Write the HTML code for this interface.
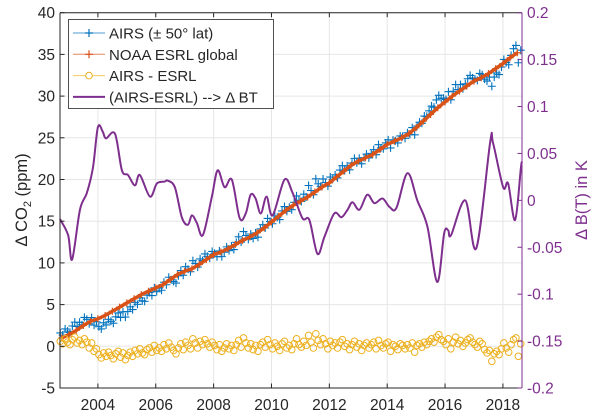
<!DOCTYPE html>
<html><head><meta charset="utf-8">
<style>
html,body{margin:0;padding:0;background:#fff;}
svg{display:block;font-family:"Liberation Sans",Arial,sans-serif;}
</style></head>
<body>
<svg id="chart" width="600" height="417" viewBox="0 0 600 417">
  <g id="grid"></g>
  <g id="series"></g>
  <g id="axes"></g>
  <text transform="translate(27,200) rotate(-90)" text-anchor="middle" font-size="16.5" fill="#262626">Δ CO<tspan font-size="11" dy="4">2</tspan><tspan dy="-4"> (ppm)</tspan></text>
  <text transform="translate(587,200) rotate(-90)" text-anchor="middle" font-size="16.5" fill="#7E2F8E">Δ B(T) in K</text>
  <g id="legend">
    <rect x="68.5" y="19.5" width="205" height="89" fill="#fff" stroke="#262626" stroke-width="0.8"/>
  </g>
</svg>
<script>
const esrlStart = 2002.75;
const esrlValues = [1.0,1.4,1.9,2.5,3.0,
3.3,3.7,4.2,4.7, 5.2,5.7,6.2,6.6, 7.0,7.4,8.0,8.6, 9.0,9.3,9.8,10.4,
11.0,11.3,11.7,12.2, 12.7,13.1,13.6,14.2, 14.9,15.6,16.3,16.9, 17.4,17.9,18.5,19.1,
19.6,20.3,21.0,21.7, 22.2,22.6,23.0,23.6, 24.2,24.6,25.0,25.5, 26.2,27.0,27.8,28.6,
29.3,30.0,30.6,31.2, 31.8,32.2,32.7,33.3, 33.9,34.6,35.2];
const residStart = 2002.7;
const residValues = [0.6,0.3,0.9,0.5,0.2,0.8,1.1,0.4,0.7,0.2,0.9,0.5,
-0.2,0.4,-0.6,-0.3,-1.0,-1.4,-0.8,-1.2,-0.7,-1.1,-1.5,-0.9,
-0.6,-1.3,-0.8,-1.6,-1.1,-0.7,-1.2,-0.5,-0.9,-0.3,-0.8,-1.0,
-0.4,-0.2,-0.7,0.1,-0.5,-0.2,-0.6,0.2,-0.3,0.4,-0.1,-0.5,
-0.9,-0.2,0.3,-0.4,0.5,0.1,-0.3,0.9,0.4,-0.2,0.6,0.2,
0.8,0.3,-0.1,0.5,0.1,-0.4,0.2,-0.6,-0.2,0.3,-0.3,0.1,
-0.5,0.2,0.7,-0.1,1.0,0.4,-0.2,0.3,-0.4,0.1,-0.6,0.2,
0.5,-0.1,0.8,0.2,-0.3,0.4,0.0,-0.5,0.3,0.6,-0.2,0.1,
-0.4,0.3,0.9,0.2,-0.1,0.6,0.1,1.3,0.5,-0.2,1.5,0.7,
0.2,0.9,0.3,-0.3,0.6,0.1,0.4,-0.2,0.5,0.8,0.0,0.3,
-0.4,0.2,0.6,-0.1,0.3,-0.5,0.1,0.4,-0.2,0.2,0.5,-0.3,
0.7,0.1,-0.2,0.3,0.5,-0.6,0.2,0.0,-0.4,0.3,0.1,-0.3,
0.2,-0.2,0.4,-0.7,0.1,0.3,-0.1,0.5,0.2,0.6,0.9,0.5,
1.1,1.4,0.8,0.6,0.2,0.9,-0.3,0.5,1.1,0.3,0.7,0.0,
0.4,0.8,1.0,0.5,0.2,-0.1,0.6,0.3,-0.4,-0.8,-0.5,-1.8,
-0.9,-0.6,-1.0,-0.3,0.4,-0.2,-0.7,0.2,0.8,1.0,-1.2,0.3];
const btYears = [2002.69,2002.97,2003.11,2003.38,2003.62,2003.83,2004.0,2004.17,2004.28,2004.59,2004.83,2005.04,2005.28,2005.45,2005.80,2006.04,2006.31,2006.41,2006.66,2006.90,2007.11,2007.25,2007.42,2007.63,2007.94,2008.14,2008.38,2008.63,2008.90,2009.11,2009.28,2009.45,2009.63,2009.83,2010.04,2010.45,2010.73,2011.07,2011.31,2011.59,2011.83,2012.17,2012.42,2012.63,2012.80,2013.04,2013.31,2013.56,2013.84,2014.08,2014.32,2014.70,2015.04,2015.39,2015.73,2015.97,2016.11,2016.21,2016.70,2017.08,2017.56,2017.66,2018.01,2018.18,2018.42,2018.62,2018.66];
const btValues = [-0.020,-0.037,-0.063,-0.010,0.008,0.035,0.078,0.073,0.066,0.071,0.032,0.027,0.016,0.027,0.004,0.018,0.020,0.021,0.014,-0.018,-0.026,-0.016,-0.024,-0.037,0.004,0.032,0.014,0.022,-0.019,-0.014,0.006,0.002,-0.014,0.004,-0.016,0.022,0.008,-0.019,-0.021,-0.057,-0.039,-0.014,-0.018,-0.010,-0.002,-0.010,0.006,-0.003,0.002,-0.007,-0.008,0.029,0.000,-0.028,-0.087,-0.035,-0.032,-0.037,0.000,-0.051,0.062,0.061,0.014,0.018,-0.021,0.034,0.041];
const yTicks = [-5,0,5,10,15,20,25,30,35,40];
const y2Ticks = [-0.2,-0.15,-0.1,-0.05,0,0.05,0.1,0.15,0.2];
const y2TickLabels = ["-0.2","-0.15","-0.1","-0.05","0","0.05","0.1","0.15","0.2"];
const xTicks = [2004,2006,2008,2010,2012,2014,2016,2018];

const L=60, R=522, T=12.7, B=388;
const X0=2002.69, X1=2018.66;
const sx = v => L + (v-X0)/(X1-X0)*(R-L);
const sy = v => B - (v+5)/45*(B-T);
const sy2 = v => B - (v+0.2)/0.4*(B-T);
const NS='http://www.w3.org/2000/svg';
function mk(tag, attrs, parent){const e=document.createElementNS(NS,tag);for(const k in attrs)e.setAttribute(k,attrs[k]);parent.appendChild(e);return e;}
const grid=document.getElementById('grid'), series=document.getElementById('series'), axes=document.getElementById('axes'), legend=document.getElementById('legend');

yTicks.forEach(t=>{const l=mk('line',{x1:L,x2:R,y1:sy(t),y2:sy(t),stroke:'#e6e6e6','stroke-width':1},grid);

});
xTicks.forEach(t=>{const l=mk('line',{x1:sx(t),x2:sx(t),y1:T,y2:B,stroke:'#e6e6e6','stroke-width':1},grid);

});

function esrlAt(t){let i=(t-esrlStart)/0.25;if(i<=0)return esrlValues[0];if(i>=esrlValues.length-1)return esrlValues[esrlValues.length-1];const a=Math.floor(i),f=i-a;return esrlValues[a]*(1-f)+esrlValues[a+1]*f;}

const gA=mk('g',{stroke:'#0072BD','stroke-width':1.1},series);


residValues.forEach((r,i)=>{const t=residStart+i/12;const x=sx(t),y=sy(esrlAt(t)+r);
const p=mk('path',{d:`M${x-4},${y}H${x+4}M${x},${y-4}V${y+4}`},gA);

});

const gE=mk('g',{},series);


const ePts=esrlValues.map((v,i)=>`${sx(esrlStart+i*0.25)},${sy(v)}`).join(' ');
const eLine=mk('polyline',{points:ePts,fill:'none',stroke:'#D95319','stroke-width':3.5,'stroke-linejoin':'round'},gE);


esrlValues.forEach((v,i)=>{const x=sx(esrlStart+i*0.25),y=sy(v);
const p=mk('path',{d:`M${x-3.5},${y}H${x+3.5}M${x},${y-3.5}V${y+3.5}`,stroke:'#D95319','stroke-width':1.2},gE);

});

const gR=mk('g',{fill:'none',stroke:'#EDB120','stroke-width':1},series);


residValues.forEach((r,i)=>{const c=mk('circle',{cx:sx(residStart+i/12),cy:sy(r),r:3.3},gR);

});

// smooth purple line (Catmull-Rom)
const bp=btValues.map((v,i)=>[sx(btYears[i]),sy2(v)]);
let d=`M${bp[0][0]},${bp[0][1]}`;
for(let i=0;i<bp.length-1;i++){const p0=bp[Math.max(0,i-1)],p1=bp[i],p2=bp[i+1],p3=bp[Math.min(bp.length-1,i+2)];
const c1=[p1[0]+(p2[0]-p0[0])/6,p1[1]+(p2[1]-p0[1])/6],c2=[p2[0]-(p3[0]-p1[0])/6,p2[1]-(p3[1]-p1[1])/6];
d+=`C${c1[0]},${c1[1]} ${c2[0]},${c2[1]} ${p2[0]},${p2[1]}`;}
const bLine=mk('path',{d:d,fill:'none',stroke:'#7E2F8E','stroke-width':2,'stroke-linejoin':'round'},series);



const ax=mk('path',{d:`M${L},${T}V${B}H${R}M${L},${T}H${R}`,fill:'none',stroke:'#262626','stroke-width':1},axes);


const ax2=mk('line',{x1:R,x2:R,y1:T,y2:B,stroke:'#7E2F8E','stroke-width':1},axes);


yTicks.forEach(t=>{mk('line',{x1:L,x2:L+4.5,y1:sy(t),y2:sy(t),stroke:'#262626'},axes);
const tx=mk('text',{x:L-5,y:sy(t)+5.5,'text-anchor':'end','font-size':15.5,fill:'#262626'},axes);tx.textContent=t;

});
y2Ticks.forEach((t,i)=>{mk('line',{x1:R-4.5,x2:R,y1:sy2(t),y2:sy2(t),stroke:'#7E2F8E'},axes);
const tx=mk('text',{x:R+5,y:sy2(t)+5.5,'text-anchor':'start','font-size':15.5,fill:'#7E2F8E'},axes);tx.textContent=y2TickLabels[i];

});
xTicks.forEach(t=>{mk('line',{x1:sx(t),x2:sx(t),y1:B,y2:B-4.5,stroke:'#262626'},axes);
mk('line',{x1:sx(t),x2:sx(t),y1:T,y2:T+4.5,stroke:'#262626'},axes);
const tx=mk('text',{x:sx(t),y:B+22,'text-anchor':'middle','font-size':15.5,fill:'#262626'},axes);tx.textContent=t;

});

const legItems=[
 {label:'AIRS (± 50° lat)',color:'#0072BD',m:'plus'},
 {label:'NOAA ESRL global',color:'#D95319',m:'plus'},
 {label:'AIRS - ESRL',color:'#EDB120',m:'circle'},
 {label:'(AIRS-ESRL) --> Δ BT',color:'#7E2F8E',m:'none'}];
legItems.forEach((it,i)=>{const y=33+i*21.3;
const g=mk('g',{},legend);


mk('line',{x1:73,x2:105,y1:y,y2:y,stroke:it.color,'stroke-width':it.m==='none'?2:1,'stroke-opacity':it.m==='none'?1:0.7},g);
if(it.m==='plus')mk('path',{d:`M85,${y}H93M89,${y-4}V${y+4}`,stroke:it.color,'stroke-width':1.2},g);
if(it.m==='circle')mk('circle',{cx:89,cy:y,r:3.3,fill:'#fff',stroke:it.color},g);
const tx=mk('text',{x:109,y:y+5.5,'font-size':15,fill:'#262626'},g);tx.textContent=it.label;});
</script>
</body></html>
